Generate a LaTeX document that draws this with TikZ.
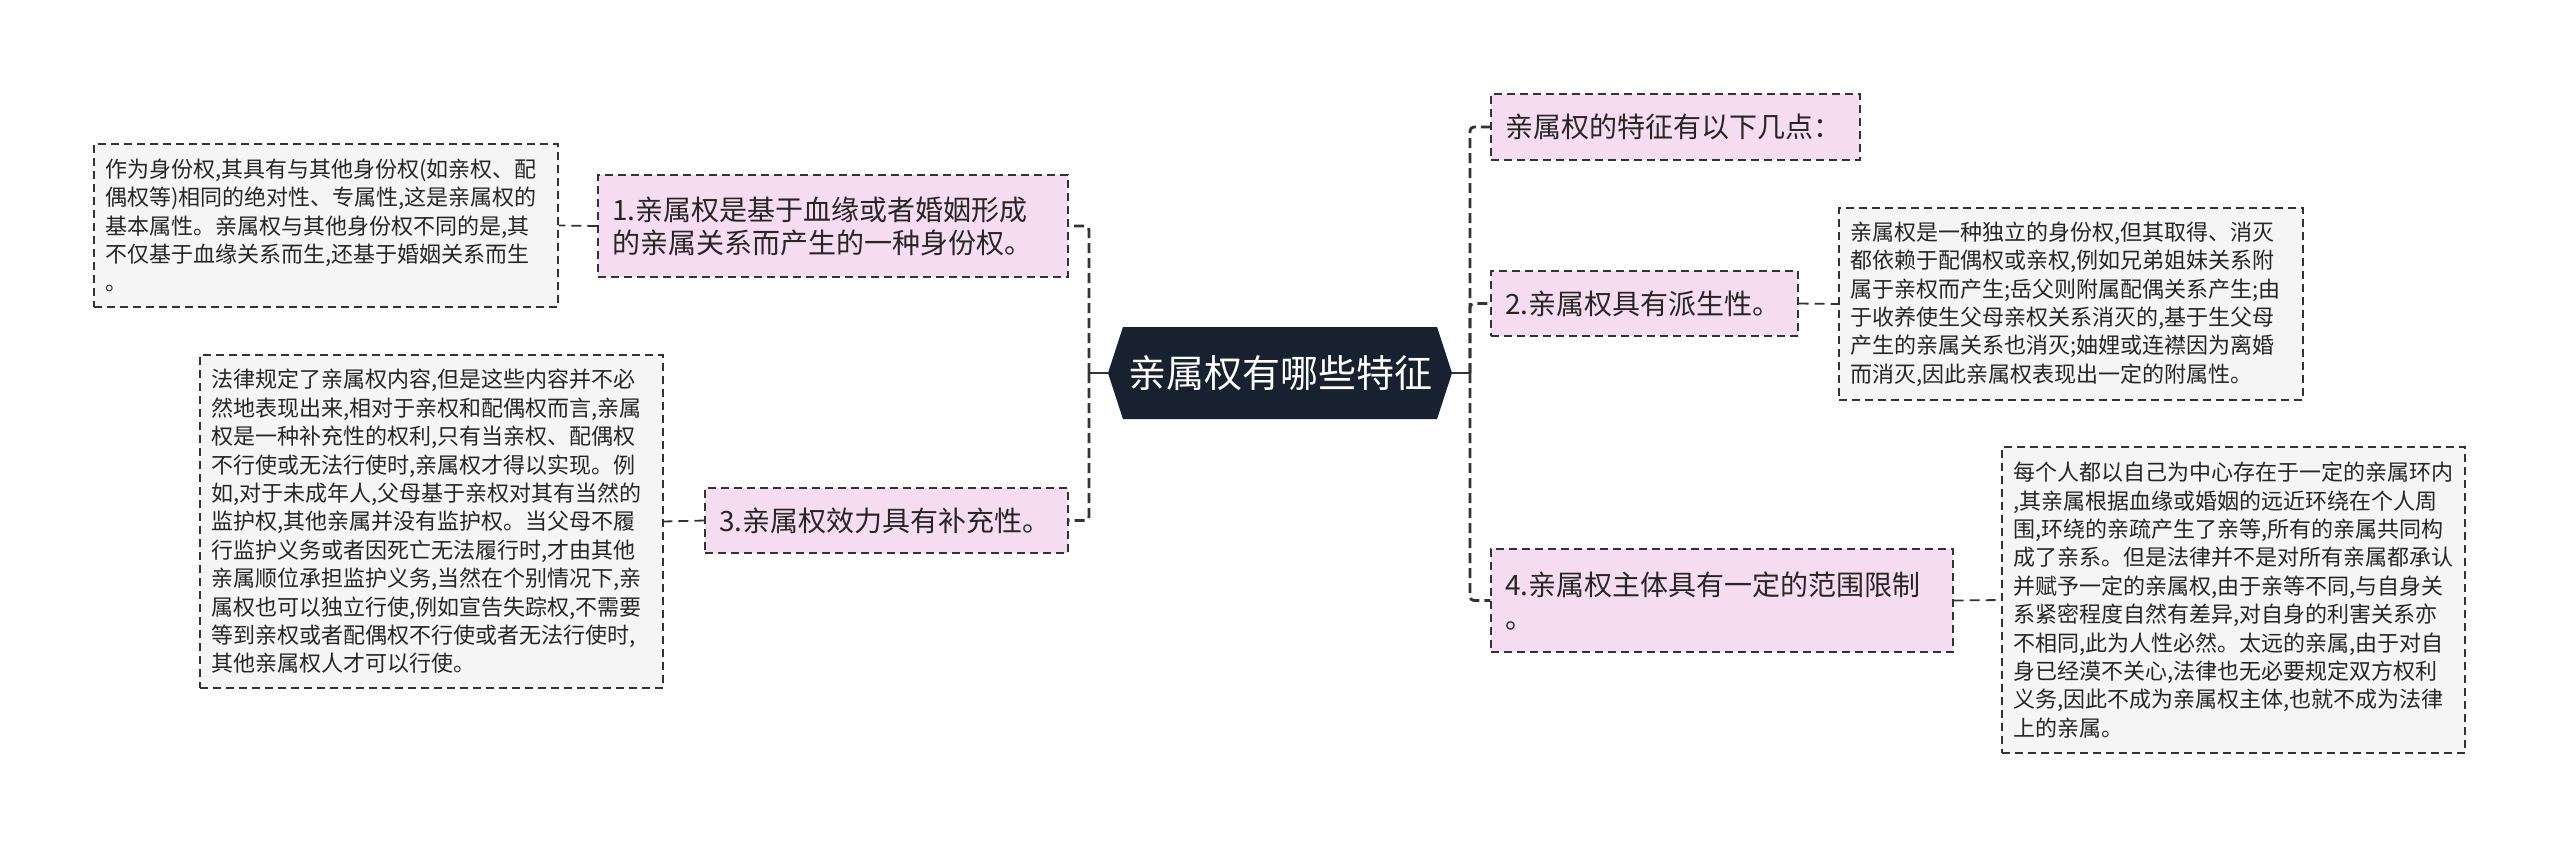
\documentclass[tikz,border=0pt]{standalone}
\usepackage{fontspec}
\setmainfont{Noto Sans CJK SC}
\usetikzlibrary{shapes.symbols}
\definecolor{navy}{HTML}{17212F}
\definecolor{blush}{HTML}{F6DCF0}
\definecolor{note}{HTML}{F5F5F5}
\definecolor{wire}{HTML}{333333}
\definecolor{ink}{HTML}{262626}

\begin{document}
\begin{tikzpicture}[x=0.5pt,y=-0.5pt,
    rootnode/.style={shape=signal,signal to=west and east,signal pointer angle=144,
      fill=navy,text=white,font=\fontsize{19}{22}\selectfont,
      minimum width=172pt,minimum height=46pt,inner sep=0pt},
    topic/.style={draw=wire,line width=0.6pt,dash pattern=on 4pt off 2.5pt,
      fill=blush,text=ink,font=\fontsize{14}{16.5}\selectfont,
      align=left,inner xsep=7pt,inner ysep=0pt},
    detail/.style={draw=wire,line width=0.6pt,dash pattern=on 4pt off 2.5pt,
      fill=note,text=ink,font=\fontsize{11}{14.2}\selectfont,
      align=left,inner xsep=5.5pt,inner ysep=0pt},
    stem/.style={wire,line width=1pt},
    trunk/.style={wire,line width=1.4pt,dash pattern=on 5pt off 2.5pt,rounded corners=2pt},
    twig/.style={wire,line width=0.9pt,dash pattern=on 5pt off 3pt}]
  \useasboundingbox (0,0) rectangle (2560,848);

  % centre and the two junctions of the trunks
  \node[rootnode] (root) at (1280,373) {亲属权有哪些特征};
  \coordinate (lj) at (1089,373);
  \coordinate (rj) at (1470,373);

  % left branches
  \node[topic,text width=221pt,minimum height=51pt] (n1) at (833,226)
    {1.亲属权是基于血缘或者婚姻形成\\的亲属关系而产生的一种身份权。};
  \node[topic,text width=167.5pt,minimum height=32.5pt] (n3) at (886.5,520.5)
    {3.亲属权效力具有补充性。};
  \node[detail,text width=221pt,minimum height=81.5pt] (d1) at (326,225.5)
    {作为身份权,其具有与其他身份权(如亲权、配\\
     偶权等)相同的绝对性、专属性,这是亲属权的\\
     基本属性。亲属权与其他身份权不同的是,其\\
     不仅基于血缘关系而生,还基于婚姻关系而生\\
     。};
  \node[detail,text width=220.5pt,minimum height=166.5pt] (d3) at (431.5,521.5)
    {法律规定了亲属权内容,但是这些内容并不必\\
     然地表现出来,相对于亲权和配偶权而言,亲属\\
     权是一种补充性的权利,只有当亲权、配偶权\\
     不行使或无法行使时,亲属权才得以实现。例\\
     如,对于未成年人,父母基于亲权对其有当然的\\
     监护权,其他亲属并没有监护权。当父母不履\\
     行监护义务或者因死亡无法履行时,才由其他\\
     亲属顺位承担监护义务,当然在个别情况下,亲\\
     属权也可以独立行使,例如宣告失踪权,不需要\\
     等到亲权或者配偶权不行使或者无法行使时,\\
     其他亲属权人才可以行使。};

  % right branches
  \node[topic,text width=170.5pt,minimum height=33pt] (n0) at (1675.5,127)
    {亲属权的特征有以下几点：};
  \node[topic,text width=139.5pt,minimum height=32.5pt] (n2) at (1644.5,303.5)
    {2.亲属权具有派生性。};
  \node[topic,text width=217pt,minimum height=51.5pt] (n4) at (1722,600.5)
    {4.亲属权主体具有一定的范围限制\\。};
  \node[detail,text width=221pt,minimum height=96pt] (d2) at (2071,304)
    {亲属权是一种独立的身份权,但其取得、消灭\\
     都依赖于配偶权或亲权,例如兄弟姐妹关系附\\
     属于亲权而产生;岳父则附属配偶关系产生;由\\
     于收养使生父母亲权关系消灭的,基于生父母\\
     产生的亲属关系也消灭;妯娌或连襟因为离婚\\
     而消灭,因此亲属权表现出一定的附属性。};
  \node[detail,text width=220.5pt,minimum height=153pt] (d4) at (2233.5,600)
    {每个人都以自己为中心存在于一定的亲属环内\\
     ,其亲属根据血缘或婚姻的远近环绕在个人周\\
     围,环绕的亲疏产生了亲等,所有的亲属共同构\\
     成了亲系。但是法律并不是对所有亲属都承认\\
     并赋予一定的亲属权,由于亲等不同,与自身关\\
     系紧密程度自然有差异,对自身的利害关系亦\\
     不相同,此为人性必然。太远的亲属,由于对自\\
     身已经漠不关心,法律也无必要规定双方权利\\
     义务,因此不成为亲属权主体,也就不成为法律\\
     上的亲属。};

  % connectors
  \draw[stem] (root.west) -- (lj);
  \draw[stem] (root.east) -- (rj);
  \draw[trunk] (lj) |- (n1.east);
  \draw[trunk] (lj) |- (n3.east);
  \draw[trunk] (rj) |- (n0.west);
  \draw[trunk] (rj) |- (n2.west);
  \draw[trunk] (rj) |- (n4.west);
  \draw[twig] (n1.west) -- (d1.east);
  \draw[twig] (n3.west) -- (d3.east);
  \draw[twig] (n2.east) -- (d2.west);
  \draw[twig] (n4.east) -- (d4.west);
\end{tikzpicture}
\end{document}
